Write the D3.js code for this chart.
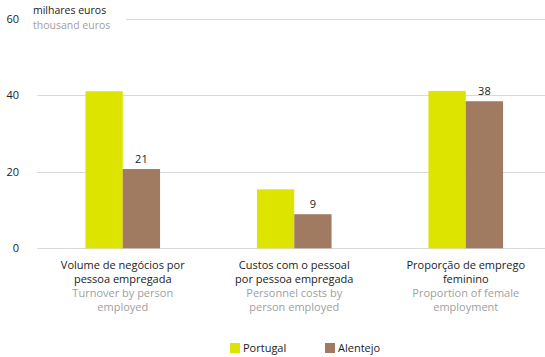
<!DOCTYPE html>
<html><head><meta charset="utf-8">
<script src="https://cdn.jsdelivr.net/npm/d3@7"></script>
<style>body{margin:0;background:#fff}svg{display:block}text{font-family:"Open Sans",sans-serif}</style>
</head><body><svg id="c" width="545" height="357"></svg>
<script>
const categoriesPT = [["Volume de negócios por","pessoa empregada"],["Custos com o pessoal","por pessoa empregada"],["Proporção de emprego","feminino"]];
const categoriesEN = [["Turnover by person","employed"],["Personnel costs by","person employed"],["Proportion of female","employment"]];
const seriesNames = ["Portugal","Alentejo"];
const portugal = [41.0, 15.4, 41.1];
const alentejo = [20.7, 8.9, 38.4];
const alentejoLabels = ["21","9","38"];
const yTicks = [0,20,40,60];
const colors = ["#dce400","#a07b62"];

const svg = d3.select("#c");
const y = d3.scaleLinear().domain([0,60]).range([248.3,18.5]);
const x0 = d3.scaleBand().domain(d3.range(3)).range([37,551.5]).padding(0);
const bw = 37.3;
const x1 = d3.scaleBand().domain(seriesNames).range([x0.bandwidth()/2-bw, x0.bandwidth()/2+bw]).padding(0);

// gridlines
const grid = svg.append("g");
yTicks.forEach(t=>{
  grid.append("line").attr("x1", t===60?126:37).attr("x2",545)
    .attr("y1",Math.round(y(t))+0.5).attr("y2",Math.round(y(t))+0.5)
    .attr("stroke","#d9d9d9").attr("stroke-width",1);
});
// y axis labels
const yAxis = d3.axisLeft(y).tickValues(yTicks).tickSize(0).tickPadding(0);
const ya = svg.append("g").attr("transform","translate(19,0)").call(yAxis);
ya.select(".domain").remove();
ya.selectAll("text").attr("font-size",11).attr("fill","#222").style("font-family","'Open Sans',sans-serif");

// unit title
svg.append("text").attr("x",33).attr("y",14).attr("font-size",10.5).attr("fill","#222").text("milhares euros");
svg.append("text").attr("x",33).attr("y",28.5).attr("font-size",10.5).attr("fill","#a0a0a0").text("thousand euros");

// bars
const data = d3.range(3).map(i=>({i, vals:[{s:"Portugal",v:portugal[i],c:colors[0]},{s:"Alentejo",v:alentejo[i],c:colors[1],lab:alentejoLabels[i]}]}));
const g = svg.selectAll("g.grp").data(data).enter().append("g").attr("class","grp")
  .attr("transform",d=>`translate(${x0(d.i)},0)`);
g.selectAll("rect").data(d=>d.vals).enter().append("rect")
  .attr("x",d=>x1(d.s)).attr("width",x1.bandwidth())
  .attr("y",d=>y(d.v)).attr("height",d=>y(0)-y(d.v)).attr("fill",d=>d.c);
g.selectAll("text.val").data(d=>d.vals.filter(v=>v.lab)).enter().append("text").attr("class","val")
  .attr("x",d=>x1(d.s)+x1.bandwidth()/2).attr("y",d=>y(d.v)-6)
  .attr("text-anchor","middle").attr("font-size",11).attr("fill","#222").text(d=>d.lab);

// category labels
g.each(function(d){
  const gg = d3.select(this);
  const cx = x0.bandwidth()/2;
  const lines = categoriesPT[d.i].map(t=>({t,c:"#222"})).concat(categoriesEN[d.i].map(t=>({t,c:"#a0a0a0"})));
  lines.forEach((l,k)=>{
    gg.append("text").attr("x",cx).attr("y",269+k*14).attr("text-anchor","middle")
      .attr("font-size",11).attr("fill",l.c).text(l.t);
  });
});

// legend
const legX = [230,325];
seriesNames.forEach((s,k)=>{
  svg.append("rect").attr("x",legX[k]).attr("y",343).attr("width",10).attr("height",10).attr("fill",colors[k]);
  svg.append("text").attr("x",legX[k]+13).attr("y",352).attr("font-size",11).attr("fill","#222").text(s);
});
</script></body></html>
